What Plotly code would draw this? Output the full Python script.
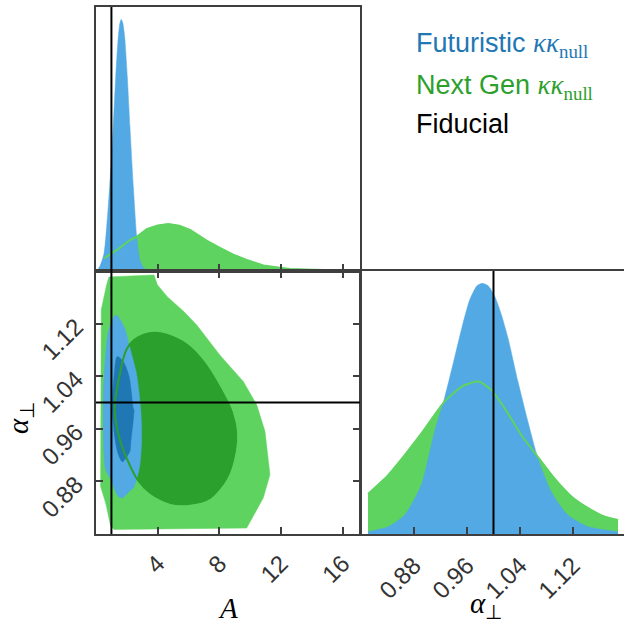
import plotly.graph_objects as go

# ---------------- data ----------------
# 1D posterior of A
A_fut_x = [0.04, 0.26, 0.52, 0.84, 1.06, 1.28, 1.43, 1.55, 1.64, 1.74, 1.86, 2.03, 2.2, 2.42, 2.64, 2.85, 3.11, 3.55]
A_fut_y = [0.0, 0.02, 0.07, 0.295, 0.507, 0.772, 0.918, 0.985, 1.0, 0.985, 0.93, 0.772, 0.573, 0.335, 0.136, 0.044, 0.011, 0.0]
A_ng_x = [0.52, 1.5, 2.2, 2.64, 3.29, 4.0, 4.69, 5.4, 6.1, 6.53, 7.2, 8.04, 8.9, 9.77, 10.85, 11.93, 12.58, 14.09, 16.26, 17.1]
A_ng_y = [0.05, 0.09, 0.123, 0.136, 0.166, 0.181, 0.187, 0.18, 0.163, 0.145, 0.12, 0.092, 0.065, 0.044, 0.022, 0.013, 0.008, 0.005, 0.002, 0.001]

# 1D posterior of alpha_perp
al_fut_x = [0.8106, 0.841, 0.866, 0.891, 0.911, 0.926, 0.941, 0.952, 0.964, 0.975, 0.983, 0.992, 1.002, 1.012,
            1.022, 1.037, 1.052, 1.067, 1.087, 1.112, 1.143, 1.188]
al_fut_y = [0.009, 0.029, 0.076, 0.195, 0.408, 0.541, 0.70, 0.82, 0.933, 0.99, 1.0, 0.99, 0.947, 0.874,
            0.78, 0.607, 0.448, 0.302, 0.169, 0.076, 0.029, 0.009]
al_ng_x = [0.8106, 0.841, 0.866, 0.891, 0.926, 0.952, 0.972, 0.979, 0.997, 1.017, 1.042, 1.067, 1.092, 1.118,
           1.143, 1.168, 1.188]
al_ng_y = [0.16, 0.235, 0.315, 0.40, 0.528, 0.588, 0.607, 0.607, 0.574, 0.501, 0.395, 0.308, 0.222, 0.149,
           0.103, 0.069, 0.056]

# 2D contours (A, alpha_perp)
ng95_A = [0.84, 3.76, 3.98, 4.62, 5.71, 6.53, 8.04, 9.55, 10.42, 10.96, 11.28, 10.85, 9.77, 1.17, 0.95, 0.63,
          0.3, 0.3, 0.34, 0.69]
ng95_al = [1.191, 1.194, 1.179, 1.161, 1.138, 1.118, 1.072, 1.032, 0.9965, 0.956, 0.890, 0.855, 0.809, 0.807,
           0.812, 0.847, 0.872, 1.057, 1.141, 1.179]

ng68_A = [3.76, 4.58, 5.88, 6.96, 8.04, 8.8, 9.08, 9.01, 8.47, 7.39, 6.1, 4.84, 3.55, 2.68, 2.03, 1.49, 1.21,
          1.28, 1.77, 2.03, 2.46, 3.11]
ng68_al = [1.106, 1.103, 1.088, 1.062, 1.022, 0.986, 0.956, 0.926, 0.885, 0.855, 0.846, 0.847, 0.862, 0.883,
           0.913, 0.948, 0.989, 1.009, 1.067, 1.083, 1.095, 1.103]

fut95_A = [1.28, 1.82, 2.2, 2.46, 2.64, 2.9, 2.96, 2.81, 2.42, 2.25, 1.71, 1.45, 0.91, 0.63, 0.47, 0.63, 0.86]
fut95_al = [1.133, 1.115, 1.083, 1.06, 1.042, 0.989, 0.946, 0.900, 0.870, 0.867, 0.855, 0.857, 0.885, 0.898,
            1.0, 1.075, 1.113]

fut68_A = [1.38, 1.77, 2.14, 2.42, 2.46, 2.25, 2.2, 1.71, 1.45, 1.21, 1.06, 1.17]
fut68_al = [1.07, 1.062, 1.04, 0.991, 0.989, 0.938, 0.926, 0.910, 0.921, 0.948, 0.999, 1.04]

fid_A = 1.0
fid_al = 1.0

A_ticks = [4, 8, 12, 16]
al_ticks = [0.88, 0.96, 1.04, 1.12]
al_ticklabels = ["0.88", "0.96", "1.04", "1.12"]

# ---------------- styling ----------------
LBLUE = "#52a9e3"
DBLUE = "#1f78b4"
LGREEN = "#5fd35f"
DGREEN = "#2ca02c"
AXC = "#3f3f3f"
TICKFONT = dict(family="Liberation Sans, Arial, sans-serif", size=24, color="#333333")

W, H = 624, 625
fig = go.Figure()

def add(tr):
    fig.add_trace(tr)

# top-left: A 1D
add(go.Scatter(x=A_ng_x, y=A_ng_y, mode="lines", fill="tozeroy", fillcolor=LGREEN,
               line=dict(color=LGREEN, width=0.5), xaxis="x", yaxis="y", hoverinfo="skip"))
add(go.Scatter(x=A_fut_x, y=A_fut_y, mode="lines", fill="tozeroy", fillcolor=LBLUE,
               line=dict(color=LBLUE, width=0.5, shape="spline", smoothing=0.6), xaxis="x", yaxis="y", hoverinfo="skip"))
add(go.Scatter(x=A_ng_x, y=A_ng_y, mode="lines", line=dict(color=LGREEN, width=2),
               xaxis="x", yaxis="y", hoverinfo="skip"))

# bottom-left: 2D
add(go.Scatter(x=ng95_A + ng95_A[:1], y=ng95_al + ng95_al[:1], mode="lines", fill="toself", fillcolor=LGREEN,
               line=dict(color=LGREEN, width=0.5), xaxis="x3", yaxis="y3", hoverinfo="skip"))
add(go.Scatter(x=ng68_A + ng68_A[:1], y=ng68_al + ng68_al[:1], mode="lines", fill="toself", fillcolor=DGREEN,
               line=dict(color=DGREEN, width=0.5, shape="spline", smoothing=0.8), xaxis="x3", yaxis="y3", hoverinfo="skip"))
add(go.Scatter(x=fut95_A + fut95_A[:1], y=fut95_al + fut95_al[:1], mode="lines", fill="toself", fillcolor=LBLUE,
               line=dict(color=LBLUE, width=0.5, shape="spline", smoothing=0.8), xaxis="x3", yaxis="y3", hoverinfo="skip"))
add(go.Scatter(x=fut68_A + fut68_A[:1], y=fut68_al + fut68_al[:1], mode="lines", fill="toself", fillcolor=DBLUE,
               line=dict(color=DBLUE, width=0.5, shape="spline", smoothing=0.8), xaxis="x3", yaxis="y3", hoverinfo="skip"))
add(go.Scatter(x=ng68_A + ng68_A[:1], y=ng68_al + ng68_al[:1], mode="lines",
               line=dict(color=DGREEN, width=2, shape="spline", smoothing=0.8), xaxis="x3", yaxis="y3", hoverinfo="skip"))

# bottom-right: alpha 1D
add(go.Scatter(x=al_ng_x, y=al_ng_y, mode="lines", fill="tozeroy", fillcolor=LGREEN,
               line=dict(color=LGREEN, width=0.5), xaxis="x4", yaxis="y4", hoverinfo="skip"))
add(go.Scatter(x=al_fut_x, y=al_fut_y, mode="lines", fill="tozeroy", fillcolor=LBLUE,
               line=dict(color=LBLUE, width=0.5, shape="spline", smoothing=0.6), xaxis="x4", yaxis="y4", hoverinfo="skip"))
add(go.Scatter(x=al_ng_x, y=al_ng_y, mode="lines", line=dict(color=LGREEN, width=2, shape="spline", smoothing=0.6),
               xaxis="x4", yaxis="y4", hoverinfo="skip"))

# domains
xl = [96 / W, 360 / W]
xr = [361 / W, 1.0]
yt = [(H - 271) / H, (H - 7) / H]
yb = [(H - 534) / H, (H - 271) / H]

common_line = dict(showline=True, linecolor=AXC, linewidth=2, showgrid=False, zeroline=False)
tick_in = dict(ticks="inside", ticklen=7, tickwidth=1.5, tickcolor=AXC)

fig.update_layout(
    width=W, height=H, margin=dict(l=0, r=0, t=0, b=0),
    paper_bgcolor="white", plot_bgcolor="white", showlegend=False,
    xaxis=dict(domain=xl, anchor="y", range=[0, 17.12], tickvals=A_ticks, showticklabels=False,
               mirror=True, **common_line, **tick_in),
    yaxis=dict(domain=yt, anchor="x", range=[0, 1.049], showticklabels=False, ticks="",
               mirror=True, **common_line),
    xaxis3=dict(domain=xl, anchor="y3", range=[0, 17.12], tickvals=A_ticks, tickangle=-45,
                ticklabelstandoff=4,
                tickfont=TICKFONT, mirror="ticks", **common_line, **tick_in),
    yaxis3=dict(domain=yb, anchor="x3", range=[0.8, 1.2], tickvals=al_ticks, ticktext=al_ticklabels,
                ticklabelstandoff=13,
                tickangle=-45, tickfont=TICKFONT, mirror="ticks", **common_line, **tick_in),
    xaxis4=dict(domain=xr, anchor="y4", range=[0.8, 1.197], tickvals=al_ticks, ticktext=al_ticklabels,
                ticklabelstandoff=6,
                tickangle=-45, tickfont=TICKFONT, mirror=True, **common_line, **tick_in),
    yaxis4=dict(domain=yb, anchor="x4", range=[0, 1.049], showticklabels=False, ticks="",
                mirror=False, **common_line),
)

# fiducial lines
FL = dict(color="black", width=2)
fig.add_shape(type="line", xref="x", yref="y domain", x0=fid_A, x1=fid_A, y0=0, y1=1, line=FL)
fig.add_shape(type="line", xref="x3", yref="y3 domain", x0=fid_A, x1=fid_A, y0=0, y1=1, line=FL)
fig.add_shape(type="line", xref="x3 domain", yref="y3", x0=0, x1=1, y0=fid_al, y1=fid_al, line=FL)
fig.add_shape(type="line", xref="x4", yref="y4 domain", x0=fid_al, x1=fid_al, y0=0, y1=1, line=FL)

# axis titles
SERIF = "Liberation Serif, Times New Roman, serif"
fig.add_annotation(x=228 / W, y=(H - 608) / H, xref="paper", yref="paper", text="<i>A</i>", yshift=-18,
                   showarrow=False, font=dict(family=SERIF, size=29, color="black"))
fig.add_annotation(x=492 / W, y=(H - 610) / H, xref="paper", yref="paper", text="<i>α</i><sub>⊥</sub>",
                   xshift=12, yshift=-15,
                   showarrow=False, font=dict(family=SERIF, size=29, color="black"))
fig.add_annotation(x=22 / W, y=(H - 408) / H, xref="paper", yref="paper", text="<i>α</i><sub>⊥</sub>",
                   xshift=-22, yshift=-10,
                   textangle=-90, showarrow=False, font=dict(family=SERIF, size=29, color="black"))

# legend texts
LEGF = "Liberation Sans, Arial, sans-serif"
kk = "<span style='font-family:Liberation Serif'><i>κκ</i><sub>null</sub></span>"
legend_items = [("Futuristic " + kk, DBLUE, 45), ("Next Gen " + kk, DGREEN, 87), ("Fiducial", "black", 124)]
for txt, col, ypix in legend_items:
    fig.add_annotation(x=414 / W, y=(H - ypix) / H, xref="paper", yref="paper", text=txt,
                       xanchor="left", yanchor="middle", showarrow=False,
                       font=dict(family=LEGF, size=27, color=col))

fig.write_html("out.html", config={"displayModeBar": False},
               post_script="document.body.style.margin='0';document.body.style.padding='0';")
